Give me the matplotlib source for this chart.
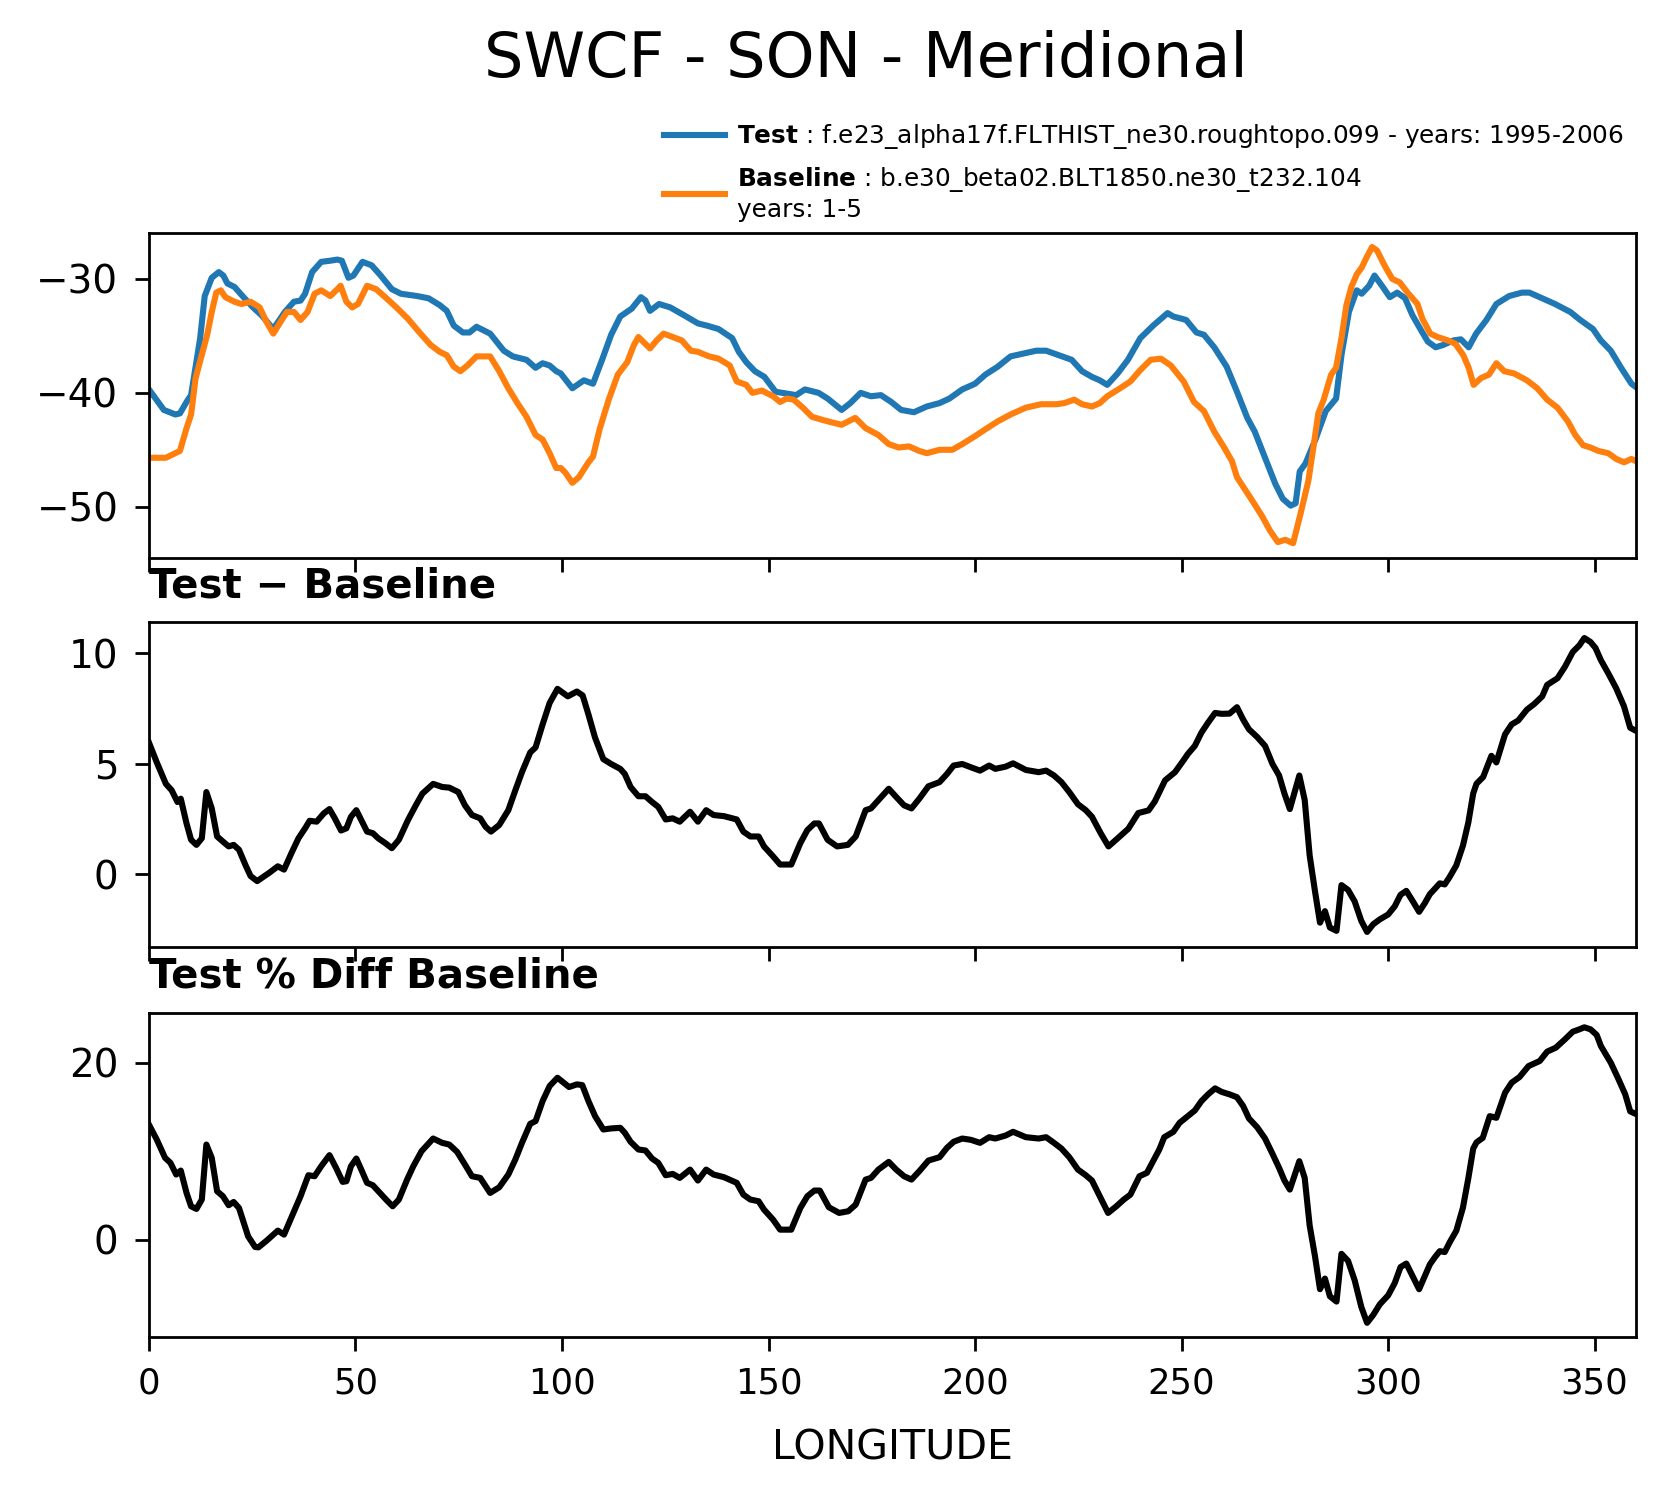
import numpy as np
import matplotlib
matplotlib.use("Agg")
import matplotlib.pyplot as plt

# ---- data (longitude in degrees, SWCF in W/m2) ----
test_lon = [0, 3.6, 6.4, 7.5, 9.1, 10.2, 12.4, 13.5, 15.2, 16.9, 18, 19, 20.7, 22.9, 25.2, 27.3, 30.1,
            32.9, 35.1, 36.7, 37.8, 39.5, 41.7, 43.9, 45.6, 46.7, 48.3, 49.5, 51.7, 53.9, 56.1, 58.8,
            61, 64.9, 67.7, 70.4, 72.1, 73.8, 76, 77.6, 79.3, 82.6, 85.9, 88.1, 91.4, 93.6, 95.3, 97,
            98.6, 99.7, 102.5, 105.3, 107.5, 109.7, 111.9, 114.1, 116.9, 119.1, 120.2, 121.3, 123.5,
            126.2, 129.6, 132.9, 135.1, 137.9, 141.2, 142.8, 144.6, 146.7, 149, 151.7, 153.3, 156.7,
            158.8, 162.1, 164.3, 167.7, 169.8, 172.3, 174.8, 177.2, 179.7, 182.1, 185.2, 188.3, 191.4,
            193.8, 196.9, 200, 202.5, 205.5, 208.6, 212.3, 214.8, 217.2, 220.3, 223.4, 225.9, 228.3,
            230.2, 232, 234.5, 237, 240, 243.1, 246.6, 248, 251.1, 253.6, 255.4, 257.9, 260.9, 263.4,
            265.9, 267.7, 270.2, 272.7, 274.5, 276.4, 277.6, 278.6, 280, 282.5, 284.9, 287.4, 288.7,
            290.5, 292.4, 293.6, 295.4, 296.7, 298.5, 300.4, 302.2, 304.1, 305.9, 307.8, 309.6, 311.5,
            313.3, 315.8, 317.6, 319.5, 321.3, 323.8, 326.2, 329.3, 332.4, 334.2, 337.3, 340.4, 344.1,
            346.5, 349.6, 351.5, 353.9, 356.4, 358.9, 360]
test_val = [-39.7, -41.5, -41.9, -41.8, -40.8, -40.2, -35.2, -31.5, -29.9, -29.4, -29.7, -30.4, -30.7,
            -31.6, -32.5, -33.2, -34.4, -32.9, -32.0, -31.9, -31.3, -29.4, -28.5, -28.4, -28.3, -28.4,
            -29.9, -29.7, -28.5, -28.8, -29.7, -30.9, -31.3, -31.5, -31.7, -32.3, -32.8, -34.1, -34.7,
            -34.7, -34.2, -34.8, -36.3, -36.8, -37.1, -37.8, -37.4, -37.6, -38.1, -38.3, -39.6, -38.9,
            -39.2, -37.1, -34.9, -33.3, -32.6, -31.6, -31.9, -32.8, -32.2, -32.5, -33.2, -33.9, -34.1,
            -34.4, -35.2, -36.4, -37.3, -38.1, -38.6, -39.9, -40.0, -40.2, -39.7, -40.0, -40.5, -41.5,
            -40.9, -40.0, -40.3, -40.2, -40.8, -41.5, -41.7, -41.2, -40.9, -40.5, -39.7, -39.2, -38.4,
            -37.7, -36.8, -36.5, -36.3, -36.3, -36.7, -37.1, -38.1, -38.6, -38.9, -39.3, -38.3, -37.1,
            -35.2, -34.1, -33.0, -33.3, -33.6, -34.7, -34.9, -36.0, -37.7, -39.9, -42.2, -43.4, -45.7,
            -48.0, -49.3, -49.9, -49.7, -46.9, -46.2, -44.0, -41.6, -40.5, -36.7, -32.9, -31.0, -31.3,
            -30.6, -29.7, -30.6, -31.6, -31.2, -31.7, -33.2, -34.4, -35.5, -36.0, -35.8, -35.4, -35.3,
            -36.0, -34.8, -33.6, -32.2, -31.5, -31.2, -31.2, -31.7, -32.2, -32.9, -33.6, -34.4, -35.4,
            -36.3, -37.8, -39.2, -39.5]

base_lon = [0, 4.1, 5.8, 7.5, 9.1, 10.2, 11.3, 13, 14.1, 15.2, 16.3, 17.4, 18.5, 20.7, 22.4, 24.6, 26.8,
            28.5, 30.1, 31.8, 33.4, 35.1, 36.7, 38.4, 40.1, 41.7, 43.9, 45.6, 46.4, 47.8, 49.2, 50.6,
            52.8, 55, 57.2, 59.9, 62.7, 65.5, 68.2, 70.4, 72.1, 73.8, 75.4, 77.1, 79.3, 82.6, 84.8, 87,
            89.2, 91.4, 93.6, 95.3, 97, 98.6, 99.7, 100.8, 102.5, 104.1, 106.4, 107.5, 109.1, 111.3,
            113.5, 115.8, 117.4, 118.5, 120.2, 121.3, 122.9, 124.6, 126.8, 129, 131.2, 132.9, 135.6,
            137.9, 140.6, 142.3, 144.6, 146.1, 148.4, 151.1, 152.8, 154.4, 156.1, 158.3, 160.5, 163.3,
            165.4, 167.7, 171, 173.5, 176.6, 179.1, 181.5, 184, 186.5, 188.3, 191.4, 194.5, 196.9, 200,
            202.5, 205.5, 208.6, 212.3, 216, 219.7, 221.6, 224, 225.9, 228.3, 230.2, 232, 235.1, 237.6,
            240, 242.5, 245, 247.4, 250.5, 253, 255.4, 257.9, 260.3, 262.2, 263.4, 265.9, 267.7, 269.6,
            271.4, 273.3, 275.1, 277, 278.8, 280.7, 281.9, 283.1, 284.4, 286.2, 287.4, 288.7, 289.9,
            291.1, 292.4, 293.6, 294.8, 296.1, 297.3, 299.1, 301, 302.8, 304.7, 307.1, 308.3, 310.2,
            312, 314.5, 316.3, 318.2, 319.5, 320.7, 322.5, 324.4, 326.2, 328.1, 330.5, 333.6, 336.1,
            338.5, 341, 343.5, 345.3, 347.2, 349, 350.9, 353.3, 355.2, 357.1, 358.9, 360]
base_val = [-45.7, -45.7, -45.4, -45.1, -43.1, -41.9, -38.7, -36.4, -34.9, -32.9, -31.2, -31.0, -31.6,
            -32.0, -32.2, -32.0, -32.5, -33.8, -34.8, -33.8, -32.9, -32.9, -33.6, -32.9, -31.3, -31.0,
            -31.5, -30.9, -30.6, -32.0, -32.5, -32.2, -30.6, -30.9, -31.6, -32.5, -33.5, -34.7, -35.8,
            -36.4, -36.7, -37.7, -38.1, -37.6, -36.8, -36.8, -38.1, -39.6, -40.9, -42.1, -43.7, -44.1,
            -45.3, -46.6, -46.6, -47.0, -47.9, -47.4, -46.1, -45.6, -43.2, -40.6, -38.4, -37.3, -35.8,
            -35.1, -35.7, -36.1, -35.4, -34.8, -35.1, -35.4, -36.3, -36.4, -36.8, -37.0, -37.6, -39.0,
            -39.3, -40.0, -39.8, -40.3, -40.8, -40.5, -40.6, -41.3, -42.1, -42.4, -42.6, -42.8, -42.2,
            -43.1, -43.7, -44.5, -44.8, -44.7, -45.1, -45.3, -45.0, -45.0, -44.5, -43.8, -43.2, -42.5,
            -41.9, -41.3, -41.0, -41.0, -40.9, -40.6, -41.0, -41.2, -40.9, -40.3, -39.6, -39.0, -38.0,
            -37.1, -37.0, -37.6, -39.0, -40.8, -41.6, -43.4, -44.8, -46.0, -47.4, -48.8, -49.8, -50.9,
            -52.1, -53.1, -52.9, -53.2, -50.6, -47.7, -44.8, -41.8, -40.6, -38.4, -37.8, -35.2, -32.3,
            -30.7, -29.6, -29.0, -28.1, -27.2, -27.5, -28.8, -30.0, -30.3, -31.2, -32.2, -33.5, -34.8,
            -35.1, -35.4, -35.7, -36.7, -37.8, -39.3, -38.7, -38.4, -37.4, -38.1, -38.3, -38.9, -39.6,
            -40.6, -41.3, -42.5, -43.7, -44.6, -44.8, -45.1, -45.3, -45.8, -46.1, -45.8, -46.0]

diff_lon = [0, 1.9, 4.1, 5.5, 6.9, 7.7, 9.1, 10.2, 11.5, 12.8, 13.9, 15.2, 16.5, 17.9, 19.3, 20.5, 21.8,
            23.5, 24.6, 26.2, 27.6, 29.3, 31.2, 32.7, 34.5, 36.2, 37.8, 38.9, 40.6, 42.3, 43.7, 45,
            46.5, 47.8, 48.9, 50.2, 51.4, 52.8, 54.2, 55.5, 57.2, 58.8, 60.5, 62.7, 64.4, 66.2, 68.8,
            71, 72.7, 74.9, 76.5, 78.2, 80.2, 81.5, 82.8, 84.8, 87, 88.7, 90.3, 92.3, 93.6, 95.3, 97,
            98.9, 101.4, 103.6, 105, 106.4, 108, 110, 111.9, 114.1, 115.2, 116.6, 118.5, 120.2, 121.8,
            123.3, 125.1, 126.8, 128.5, 131, 132.9, 134.9, 136.7, 139.2, 142.3, 143.9, 145.6, 147.6,
            148.9, 151.1, 152.8, 155.5, 157.7, 159.4, 161.1, 162.2, 164.3, 166.6, 169.2, 171.1, 173.5,
            174.8, 176.6, 179.1, 180.9, 182.8, 184.6, 186.5, 188.7, 191.4, 193.2, 194.8, 196.9, 199,
            201.2, 203.4, 204.9, 207.4, 209.2, 212.3, 215.4, 217.2, 219.1, 220.9, 222.8, 224.9, 226.8,
            228.3, 230.4, 232.3, 234.3, 237.1, 239.5, 242, 243.5, 246, 248.4, 250.4, 251.5, 253.2,
            254.8, 256.4, 258.1, 259.7, 261.6, 263.4, 264.9, 266.3, 268.3, 270.2, 272, 273.6, 274.9,
            276.2, 278.5, 279.8, 281, 282.3, 283.5, 284.7, 285.9, 287.5, 288.7, 290.3, 291.9, 293.5,
            294.9, 296.4, 298, 300, 301.6, 303, 304.4, 306, 307.5, 308.9, 310.1, 311.3, 312.5, 313.7,
            314.9, 316.5, 318.1, 319.4, 320.6, 321.4, 323, 325, 326.2, 328.3, 329.9, 331.5, 333.6,
            335.4, 337.3, 338.5, 341, 342.8, 344.7, 346.3, 347.5, 349, 350.2, 351.5, 353.3, 355.2,
            357.1, 358.6, 360]
diff_val = [5.97, 5.07, 4.10, 3.81, 3.28, 3.43, 2.31, 1.57, 1.34, 1.64, 3.73, 2.99, 1.72, 1.49, 1.27,
            1.34, 1.12, 0.37, -0.07, -0.30, -0.12, 0.10, 0.37, 0.22, 0.97, 1.64, 2.09, 2.43, 2.39, 2.76,
            2.96, 2.54, 1.99, 2.09, 2.61, 2.91, 2.46, 1.94, 1.87, 1.64, 1.42, 1.19, 1.57, 2.46, 3.06,
            3.66, 4.10, 3.96, 3.93, 3.73, 3.13, 2.69, 2.54, 2.16, 1.94, 2.24, 2.91, 3.81, 4.63, 5.52,
            5.75, 6.79, 7.76, 8.40, 8.06, 8.28, 8.10, 7.24, 6.19, 5.22, 5.00, 4.78, 4.55, 3.96, 3.54,
            3.54, 3.28, 3.06, 2.49, 2.54, 2.39, 2.84, 2.39, 2.91, 2.69, 2.64, 2.49, 1.94, 1.72, 1.72,
            1.27, 0.82, 0.45, 0.45, 1.42, 2.01, 2.31, 2.31, 1.57, 1.27, 1.34, 1.72, 2.91, 2.99, 3.36,
            3.88, 3.51, 3.13, 2.99, 3.43, 3.99, 4.18, 4.55, 4.93, 5.00, 4.85, 4.70, 4.93, 4.78, 4.88,
            5.03, 4.73, 4.63, 4.70, 4.48, 4.18, 3.73, 3.18, 2.91, 2.61, 1.87, 1.27, 1.60, 2.07, 2.78,
            2.90, 3.30, 4.26, 4.63, 5.15, 5.45, 5.82, 6.42, 6.87, 7.31, 7.27, 7.28, 7.57, 7.01, 6.57,
            6.22, 5.82, 5.00, 4.48, 3.66, 2.96, 4.48, 3.37, 0.86, -0.77, -2.18, -1.66, -2.40, -2.55,
            -0.48, -0.70, -1.22, -2.10, -2.60, -2.25, -2.03, -1.81, -1.44, -0.92, -0.74, -1.22, -1.69,
            -1.29, -0.89, -0.65, -0.40, -0.45, -0.11, 0.41, 1.30, 2.34, 3.67, 4.11, 4.41, 5.37, 5.07,
            6.34, 6.79, 6.97, 7.46, 7.72, 8.06, 8.58, 8.88, 9.40, 10.07, 10.37, 10.70, 10.52, 10.25,
            9.70, 9.10, 8.43, 7.61, 6.64, 6.5]

pct_lon = [0, 1.9, 3.9, 5.2, 6.6, 7.7, 9.1, 10.2, 11.5, 12.8, 13.9, 15.2, 16.5, 17.9, 19.3, 20.5, 21.8,
           24, 25.7, 26.5, 28.5, 31.2, 32.7, 34.5, 36.7, 38.6, 40.1, 41.7, 43.7, 45.3, 46.9, 47.8,
           48.9, 50.2, 51.4, 52.8, 54.2, 55.9, 57.4, 59, 60.5, 62.5, 64, 66, 68.8, 71, 72.7, 74.6,
           76.5, 78.2, 80.2, 82.6, 84.8, 87, 88.7, 90.3, 92.3, 93.6, 95.3, 97, 98.9, 101.7, 103.6,
           104.9, 106.4, 108, 110, 111.9, 114.1, 115.2, 116.6, 118.5, 120.2, 121.8, 123.3, 125.1,
           126.8, 128.5, 131, 132.9, 134.9, 136.7, 139.2, 142.3, 143.9, 145.6, 147.6, 148.9, 151.1,
           152.8, 155.5, 157.7, 159.4, 161.1, 162.4, 164.6, 167.1, 169.3, 171.1, 173.5, 174.8, 176.6,
           179.1, 180.9, 182.8, 184.6, 186.5, 188.7, 191.4, 193.2, 194.8, 196.9, 199, 201.2, 203.4,
           204.9, 207.4, 209.2, 212.3, 215.4, 217.2, 219.1, 220.9, 222.8, 224.9, 226.8, 228.3, 230.4,
           232.2, 234.2, 236, 237.6, 239.8, 241.6, 243.1, 244.6, 245.8, 248, 249.5, 251.5, 253.2,
           254.8, 256.4, 258.1, 259.7, 261.6, 263.4, 264.9, 266.3, 268.3, 270.2, 272, 273.6, 274.9,
           276.2, 278.5, 279.8, 281, 282.3, 283.5, 284.7, 285.9, 287.5, 288.7, 290.3, 291.9, 293.5,
           294.9, 296.4, 298, 300, 301.6, 303, 304.4, 306, 307.5, 308.9, 310.1, 311.3, 312.5, 313.7,
           314.9, 316.5, 318.1, 319.4, 320.6, 321.4, 322.9, 324.6, 326.2, 328.3, 329.9, 331.8, 334,
           336.7, 338.5, 340.6, 342.8, 344.7, 346.3, 347.5, 349, 350.5, 351.5, 353.9, 355.8, 357.4,
           358.6, 360]
pct_val = [13.0, 11.3, 9.25, 8.68, 7.36, 7.81, 5.28, 3.77, 3.47, 4.53, 10.75, 9.25, 5.47, 4.91, 3.89,
           4.26, 3.58, 0.38, -0.83, -0.87, -0.11, 1.02, 0.57, 2.53, 4.91, 7.28, 7.17, 8.30, 9.55, 8.11,
           6.53, 6.60, 8.30, 9.17, 7.92, 6.42, 6.15, 5.28, 4.53, 3.77, 4.53, 6.79, 8.30, 10.0, 11.43,
           10.94, 10.75, 9.92, 8.49, 7.17, 6.98, 5.28, 5.92, 7.36, 9.06, 10.94, 13.09, 13.4, 15.66,
           17.36, 18.3, 17.25, 17.55, 17.47, 15.66, 13.96, 12.45, 12.57, 12.64, 12.08, 11.06, 10.19,
           10.08, 9.17, 8.68, 7.28, 7.43, 6.98, 7.92, 6.68, 7.92, 7.36, 7.06, 6.42, 5.09, 4.53, 4.34,
           3.40, 2.26, 1.13, 1.13, 3.58, 4.91, 5.55, 5.55, 3.66, 3.02, 3.21, 3.96, 6.79, 6.98, 7.92,
           8.79, 7.92, 7.17, 6.79, 7.74, 8.94, 9.32, 10.38, 11.06, 11.43, 11.28, 10.94, 11.58, 11.43,
           11.77, 12.19, 11.58, 11.43, 11.58, 10.94, 10.30, 9.32, 7.92, 7.28, 6.68, 4.72, 3.02, 3.77,
           4.53, 5.09, 7.17, 7.55, 8.87, 10.19, 11.58, 12.19, 13.2, 13.96, 14.6, 15.66, 16.42, 17.1,
           16.7, 16.42, 16.1, 15.1, 13.7, 12.7, 11.43, 9.70, 8.11, 6.68, 5.66, 8.87, 6.98, 1.6, -1.9,
           -5.6, -4.4, -6.4, -7.0, -1.6, -2.4, -4.6, -7.6, -9.4, -8.5, -7.3, -6.3, -4.9, -3.1, -2.7,
           -4.2, -5.6, -4.1, -2.8, -2.0, -1.3, -1.4, -0.3, 1.0, 3.6, 6.9, 10.3, 11.0, 11.5, 13.96,
           13.77, 16.6, 17.74, 18.38, 19.62, 20.19, 21.25, 21.7, 22.64, 23.5, 23.77, 24.0, 23.77,
           23.13, 21.89, 20.0, 18.1, 16.42, 14.5, 14.2]

test_label = r"$\bf{Test}$ : f.e23_alpha17f.FLTHIST_ne30.roughtopo.099 - years: 1995-2006"
base_label = r"$\bf{Baseline}$ : b.e30_beta02.BLT1850.ne30_t232.104" + "\n" + "years: 1-5"

plt.rcParams['axes.linewidth'] = 1.0
plt.rcParams['xtick.major.size'] = 5
plt.rcParams['ytick.major.size'] = 5
plt.rcParams['xtick.major.width'] = 1.0
plt.rcParams['ytick.major.width'] = 1.0

fig = plt.figure(figsize=(8.34, 7.48), dpi=200)

left, width, height = 0.0893, 0.8915, 0.217
ax1 = fig.add_axes([left, 0.627, width, height])
ax2 = fig.add_axes([left, 0.367, width, height])
ax3 = fig.add_axes([left, 0.106, width, height])

ax1.plot(test_lon, test_val, color='#1f77b4', lw=2.2, label=test_label)
ax1.plot(base_lon, base_val, color='#ff7f0e', lw=2.2, label=base_label)
ax1.set_ylim(-54.5, -26.0)
ax1.set_yticks([-50, -40, -30])

ax2.plot(diff_lon, diff_val, color='black', lw=2.2)
ax2.set_ylim(-3.28, 11.41)
ax2.set_yticks([0, 5, 10])
ax2.set_title("Test \u2212 Baseline", loc='left', fontweight='bold', fontsize=14.5, pad=9)

ax3.plot(pct_lon, pct_val, color='black', lw=2.2)
ax3.set_ylim(-11.05, 25.64)
ax3.set_yticks([0, 20])
ax3.set_title("Test % Diff Baseline", loc='left', fontweight='bold', fontsize=14.5, pad=9)
ax3.set_xlabel("LONGITUDE", fontsize=14.8, labelpad=10)

for ax in (ax1, ax2, ax3):
    ax.set_xlim(0, 360)
    ax.set_xticks(np.arange(0, 360, 50))
    ax.tick_params(axis='x', labelsize=12.8, pad=5.5)
    ax.tick_params(axis='y', labelsize=14, pad=6)
for ax in (ax1, ax2):
    ax.tick_params(labelbottom=False)

fig.suptitle("SWCF - SON - Meridional", fontsize=22.4, x=0.519, y=0.98)
fig.legend(loc='upper left', bbox_to_anchor=(0.385, 0.933), frameon=False,
           fontsize=8.9, handlelength=2.45, handletextpad=0.5, labelspacing=0.55)

fig.savefig("out.png", dpi=200)
